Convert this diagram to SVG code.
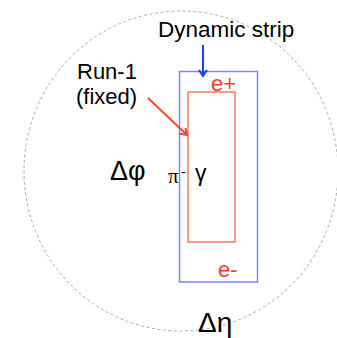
<svg xmlns="http://www.w3.org/2000/svg" width="337" height="338" viewBox="0 0 337 338">
<style>
.t{font-family:"Liberation Sans",Arial,sans-serif;fill:#000}
.r{fill:#ff3b2a}
</style>
<defs>
<marker id="ab" markerWidth="10" markerHeight="10" refX="7" refY="5" orient="auto" markerUnits="userSpaceOnUse"><path d="M1,1 L7,5 L1,9" fill="none" stroke="#1a3cff" stroke-width="2"/></marker>
<marker id="ar" markerWidth="10" markerHeight="10" refX="7" refY="5" orient="auto" markerUnits="userSpaceOnUse"><path d="M1,1 L7,5 L1,9" fill="none" stroke="#f24a30" stroke-width="2"/></marker>
</defs>
<rect width="337" height="338" fill="#fff"/>
<ellipse id="region" cx="181" cy="171" rx="157" ry="160" fill="none" stroke="#aaa" stroke-width="1" stroke-dasharray="3,2.5"/>
<g id="strip"><rect x="179.5" y="71.5" width="78" height="210.5" fill="none" stroke="#7f84ff" stroke-width="1.5"/></g>
<g id="run1"><rect x="188" y="92" width="47" height="150" fill="none" stroke="#f5664a" stroke-width="1.3"/></g>
<g id="connectors">
<line x1="203" y1="45" x2="203" y2="76" stroke="#1a3cff" stroke-width="2" marker-end="url(#ab)"/>
<line x1="148" y1="98" x2="187" y2="135" stroke="#f24a30" stroke-width="2" marker-end="url(#ar)"/>
</g>
<text class="t" x="158" y="37" font-size="22.5">Dynamic strip</text>
<text class="t" x="77" y="79" font-size="22">Run-1</text>
<text class="t" x="76" y="104" font-size="22">(fixed)</text>
<text class="t" x="110" y="180" font-size="27">Δφ</text>
<text x="168" y="183" font-size="21" font-family="'Liberation Serif','Times New Roman',serif">π<tspan x="181" y="176" font-size="14">-</tspan></text>
<text class="t" x="195" y="181" font-size="23">γ</text>
<text class="t r" x="211" y="91" font-size="22">e+</text>
<text class="t r" x="218" y="277" font-size="22">e-</text>
<text class="t" x="198" y="332" font-size="28">Δη</text>
</svg>
